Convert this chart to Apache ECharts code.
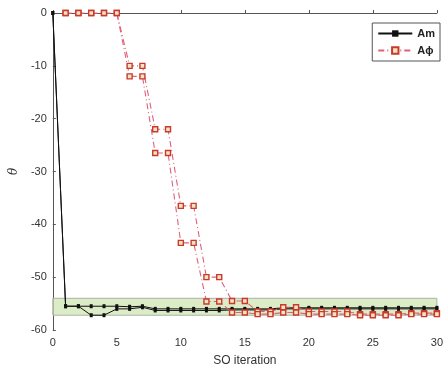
<!DOCTYPE html>
<html>
<head>
<meta charset="utf-8">
<script src="https://cdn.jsdelivr.net/npm/echarts@6/dist/echarts.min.js"></script>
<style>
  html, body { margin: 0; padding: 0; background: #fff; }
  #chart { width: 446px; height: 372px; }
</style>
</head>
<body>
<div id="chart"></div>
<script>
// SO iteration 0..30
const iterations = [0,1,2,3,4,5,6,7,8,9,10,11,12,13,14,15,16,17,18,19,20,21,22,23,24,25,26,27,28,29,30];

const am1 = [0,-55.5,-55.5,-55.5,-55.5,-55.5,-55.6,-55.5,-56,-56,-56,-56,-56,-56,-56,-56,-56,-56,-55.8,-55.8,-55.8,-55.8,-55.8,-55.8,-55.8,-55.8,-55.8,-55.8,-55.8,-55.8,-55.8];
const am2 = [0,-55.5,-55.5,-57.2,-57.2,-56,-56,-55.7,-56.3,-56.3,-56.3,-56.3,-56.3,-56.3,-56.2,-56.2,-56.2,-56.2,-56,-56,-56,-56,-56,-56,-56,-56,-56,-56,-56,-56,-56];
// A-phi traces start at iteration 1
const aphi1 = [null,0,0,0,0,0,-10,-10,-22,-22,-36.5,-36.5,-50,-50,-54.5,-54.5,-56.5,-56.5,-55.7,-55.7,-56.5,-56.5,-56.5,-56.5,-57,-57,-57,-57,-56.8,-56.8,-56.8];
const aphi2 = [null,0,0,0,0,0,-12,-12,-26.5,-26.5,-43.5,-43.5,-54.6,-54.6,-56.7,-56.7,-57,-57,-56.7,-56.7,-57,-57,-57,-57,-57.2,-57.2,-57.2,-57.2,-57,-57,-57];

const band = [-54, -57.2];

const pair = (arr) => arr.map((v, i) => [iterations[i], v]).filter(p => p[1] !== null);

const chart = echarts.init(document.getElementById('chart'));

const amStyle = {
  type: 'line',
  name: 'Am',
  color: '#111',
  symbol: 'rect',
  symbolSize: [3, 4],
  lineStyle: { color: '#111', width: 1 },
  itemStyle: { color: '#111' },
  z: 3
};
const aphiStyle = {
  type: 'line',
  name: 'A\u03d5',
  color: '#d8505e',
  symbol: 'rect',
  symbolSize: 5,
  lineStyle: { color: '#e0607a', width: 1.1, type: [6, 3, 1, 3] },
  itemStyle: { color: '#f6e3c4', borderColor: '#c93a2c', borderWidth: 1.4 },
  z: 4
};

chart.setOption({
  animation: false,
  grid: { left: 51, right: 8, top: 13, bottom: 41 },
  legend: {
    orient: 'vertical',
    right: 6,
    top: 23,
    itemWidth: 34,
    itemHeight: 8,
    itemGap: 6,
    padding: [5, 5, 5, 5],
    borderColor: '#555',
    borderWidth: 1,
    backgroundColor: '#fff',
    textStyle: { fontFamily: 'Liberation Sans', fontSize: 11, fontWeight: 'bold', color: '#222' },
    data: ['Am', 'A\u03d5']
  },
  xAxis: {
    type: 'value',
    min: 0,
    max: 30,
    interval: 5,
    name: 'SO iteration',
    nameLocation: 'middle',
    nameGap: 25,
    nameTextStyle: { fontFamily: 'Liberation Sans', fontSize: 12, color: '#333' },
    axisLine: { show: true, lineStyle: { color: '#555' } },
    axisTick: { inside: true, length: 3, lineStyle: { color: '#555' } },
    axisLabel: { fontFamily: 'Liberation Sans', fontSize: 11, color: '#333', margin: 7 },
    splitLine: { show: false }
  },
  yAxis: {
    type: 'value',
    min: -60,
    max: 0,
    interval: 10,
    name: '\u03b8',
    nameLocation: 'middle',
    nameGap: 30,
    nameRotate: 90,
    nameTextStyle: { fontFamily: 'DejaVu Serif', fontStyle: 'italic', fontSize: 12, color: '#333' },
    axisLine: { show: true, lineStyle: { color: '#555' } },
    axisTick: { inside: true, length: 3, lineStyle: { color: '#555' } },
    axisLabel: { fontFamily: 'Liberation Sans', fontSize: 11, color: '#333', margin: 6 },
    // only the top frame line (y = 0) is visible
    splitLine: {
      show: true,
      lineStyle: {
        width: 1,
        color: ['transparent', 'transparent', 'transparent', 'transparent', 'transparent', 'transparent', '#888']
      }
    }
  },
  series: [
    Object.assign({}, amStyle, {
      data: pair(am1),
      markArea: {
        silent: true,
        itemStyle: { color: 'rgba(205,228,175,0.7)', borderColor: '#a8b4a8', borderWidth: 1 },
        data: [[{ yAxis: band[0] }, { yAxis: band[1] }]]
      }
    }),
    Object.assign({}, amStyle, { data: pair(am2) }),
    Object.assign({}, aphiStyle, { data: pair(aphi1) }),
    Object.assign({}, aphiStyle, { data: pair(aphi2) })
  ]
});
</script>
</body>
</html>
